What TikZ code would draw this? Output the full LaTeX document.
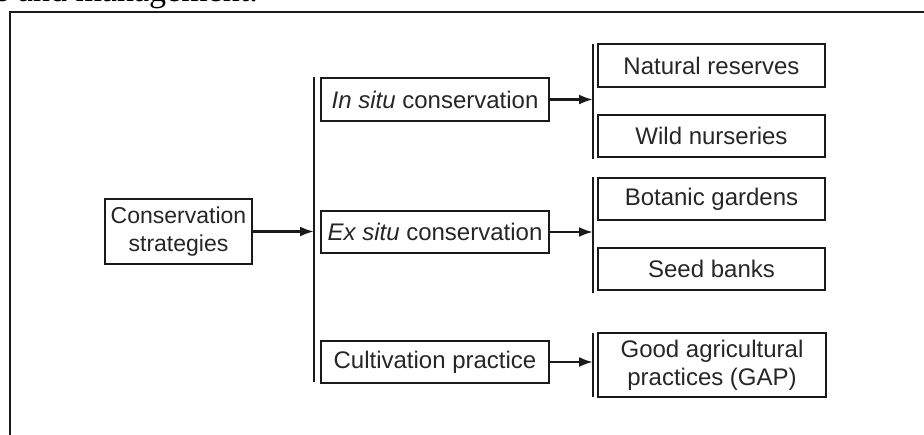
\documentclass[tikz,border=0pt]{standalone}
\usepackage{fontspec}
\setmainfont{Liberation Sans}
\newfontfamily\capfont{Liberation Serif}
\usetikzlibrary{arrows.meta}
\definecolor{ink}{HTML}{1A1A1A}
\definecolor{txt}{HTML}{262626}
\begin{document}
\begin{tikzpicture}[x=1pt,y=-1pt,
  box/.style={draw=ink,line width=2.4pt,inner sep=0pt,text=txt,
    font=\fontsize{24}{28}\selectfont,align=center},
  bar/.style={draw=ink,line width=2.4pt},
  arr/.style={draw=ink,line width=2.4pt,-{Latex[length=14pt,width=10pt]}}]
\useasboundingbox (0,0) rectangle (924,434);
% caption fragment cut by the top edge
\node[anchor=base west,inner sep=0pt,font=\capfont\fontsize{34}{40}\selectfont] (cap) at (-4,1.5) {s and management.};
% outer frame (runs past the right and bottom edges)
\draw[bar] (940,12) -- (10,12) -- (10,450);
% nodes
\node[box,minimum width=147pt,minimum height=65pt,font=\fontsize{23}{28.5}\selectfont] (cs) at (178.5,231.5) {Conservation\\strategies};
\node[box,minimum width=228pt,minimum height=43pt] (insitu) at (435,99.5) {\textit{In situ} conservation};
\node[box,minimum width=228pt,minimum height=42pt] (exsitu) at (435,232) {\textit{Ex situ} conservation};
\node[box,minimum width=228pt,minimum height=42pt] (cult) at (435,362) {Cultivation practice};
\node[box,minimum width=227pt,minimum height=43pt] (nat) at (711.5,65.5) {Natural reserves};
\node[box,minimum width=227pt,minimum height=42pt] (wild) at (711.5,136) {Wild nurseries};
\node[box,minimum width=227pt,minimum height=42pt] (bot) at (711.5,199) {Botanic gardens};
\node[box,minimum width=227pt,minimum height=42pt] (seed) at (711.5,269) {Seed banks};
\node[box,minimum width=228pt,minimum height=64pt] (gap) at (712,365) {Good agricultural\\practices (GAP)};
% bars
\coordinate (mt) at (314,77); \coordinate (mb) at (314,382);
\coordinate (at) at (593,44); \coordinate (ab) at (593,159);
\coordinate (bt) at (593,177); \coordinate (bb) at (593,293);
\coordinate (ct) at (593,333); \coordinate (cb) at (593,397);
\draw[bar] (mt) -- (mb);
\draw[bar] (at) -- (ab);
\draw[bar] (bt) -- (bb);
\draw[bar] (ct) -- (cb);
% arrows
\draw[arr] (cs.east) -- (cs.east -| mt);
\draw[arr] (insitu.east) -- (insitu.east -| at);
\draw[arr] (exsitu.east) -- (exsitu.east -| bt);
\draw[arr] (cult.east) -- (cult.east -| ct);
\end{tikzpicture}
\end{document}
